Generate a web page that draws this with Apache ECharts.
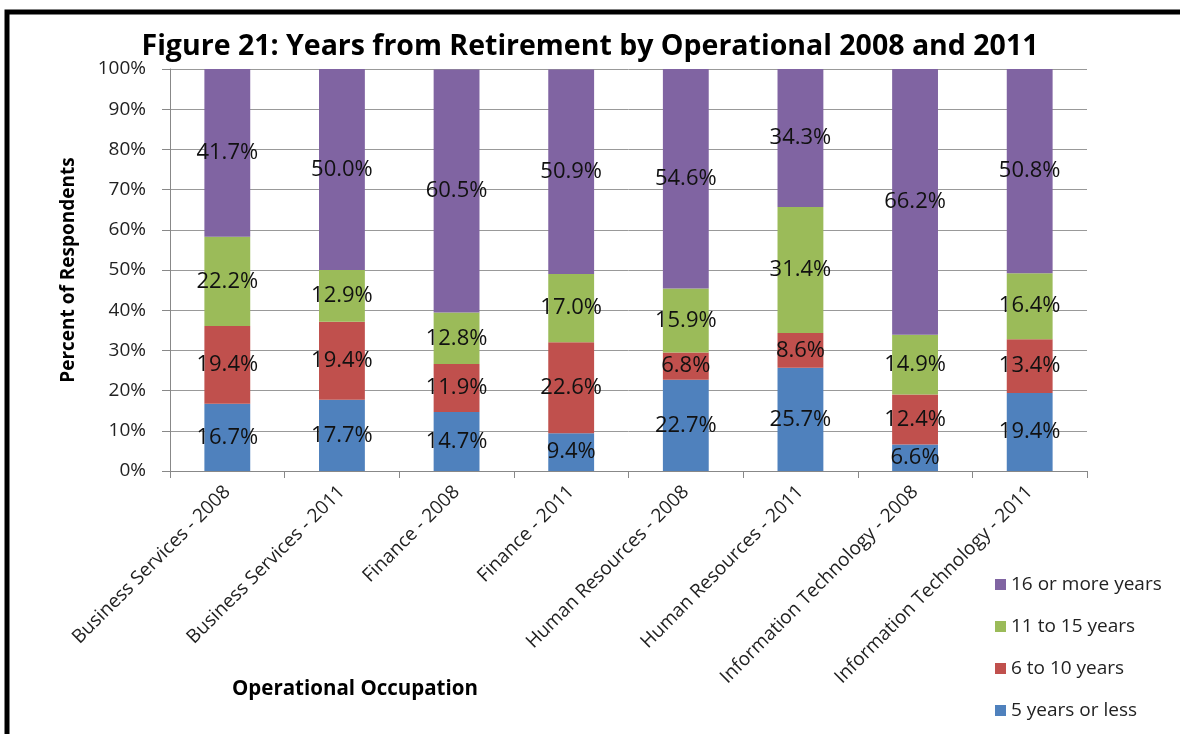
<!DOCTYPE html>
<html>
<head>
    <meta charset="utf-8">
    <title>Years from Retirement</title>
    <script src="https://cdn.jsdelivr.net/npm/echarts@6/dist/echarts.min.js"></script>
    <style>
        html, body { margin: 0; padding: 0; background: #fff; }
        #chart { width: 1180px; height: 734px; }
    </style>
</head>
<body>
<div id="chart"></div>
<script>
    // categories and values (percent)
    var categories = ['Business Services - 2008', 'Business Services - 2011', 'Finance - 2008', 'Finance - 2011',
        'Human Resources - 2008', 'Human Resources - 2011', 'Information Technology - 2008', 'Information Technology - 2011'];
    var fiveOrLess = [16.7, 17.7, 14.7, 9.4, 22.7, 25.7, 6.6, 19.4];
    var sixToTen = [19.4, 19.4, 11.9, 22.6, 6.8, 8.6, 12.4, 13.4];
    var elevenToFifteen = [22.2, 12.9, 12.8, 17.0, 15.9, 31.4, 14.9, 16.4];
    var sixteenPlus = [41.7, 50.0, 60.5, 50.9, 54.6, 34.3, 66.2, 50.8];
    var yTicks = [0, 10, 20, 30, 40, 50, 60, 70, 80, 90, 100];

    var font = '"Open Sans", Lato, sans-serif';
    var chart = echarts.init(document.getElementById('chart'));

    function seriesOf(name, data, color) {
        return {
            name: name,
            type: 'bar',
            stack: 'total',
            data: data,
            barWidth: '40%',
            itemStyle: { color: color },
            label: {
                show: true,
                position: 'inside',
                formatter: function (p) { return p.value.toFixed(1) + '%'; },
                color: '#111',
                fontSize: 22,
                fontFamily: font
            }
        };
    }

    chart.setOption({
        animation: false,
        title: {
            text: 'Figure 21: Years from Retirement by Operational 2008 and 2011',
            left: 'center',
            top: 27,
            textStyle: { fontSize: 28.5, fontWeight: 'bold', color: '#000', fontFamily: font }
        },
        legend: {
            orient: 'vertical',
            left: 990,
            top: 570,
            itemWidth: 11,
            itemHeight: 11,
            itemGap: 23,
            icon: 'rect',
            data: ['16 or more years', '11 to 15 years', '6 to 10 years', '5 years or less'],
            textStyle: { fontSize: 19, color: '#222', fontFamily: font }
        },
        grid: { left: 170, right: 93, top: 69, bottom: 263 },
        xAxis: {
            type: 'category',
            data: categories,
            axisLine: { lineStyle: { color: '#888' } },
            axisTick: { show: true, length: 7, lineStyle: { color: '#888' } },
            axisLabel: { rotate: 45, fontSize: 19, color: '#222', fontFamily: font, margin: 18 }
        },
        yAxis: {
            type: 'value',
            min: 0,
            max: 100,
            interval: 10,
            name: 'Percent of Respondents',
            nameLocation: 'middle',
            nameGap: 92,
            nameTextStyle: { fontSize: 19, fontWeight: 'bold', color: '#000', fontFamily: font },
            axisLine: { show: true, lineStyle: { color: '#888' } },
            axisTick: { show: true, length: 8, lineStyle: { color: '#888' } },
            splitLine: { lineStyle: { color: '#999' } },
            axisLabel: {
                fontSize: 19, color: '#222', fontFamily: font, margin: 24,
                formatter: function (v) { return yTicks.indexOf(v) >= 0 ? v + '%' : ''; }
            }
        },
        graphic: [
            { type: 'rect', shape: { x: 7, y: 12, width: 1200, height: 760 }, style: { fill: 'none', stroke: '#000', lineWidth: 5 } },
            {
                type: 'text', left: 232, top: 679,
                style: { text: 'Operational Occupation', fontSize: 20.5, fontWeight: 'bold', fill: '#000', fontFamily: font }
            }
        ],
        series: [
            seriesOf('5 years or less', fiveOrLess, '#4F81BD'),
            seriesOf('6 to 10 years', sixToTen, '#C0504D'),
            seriesOf('11 to 15 years', elevenToFifteen, '#9BBB59'),
            seriesOf('16 or more years', sixteenPlus, '#8064A2')
        ]
    });
</script>
</body>
</html>
